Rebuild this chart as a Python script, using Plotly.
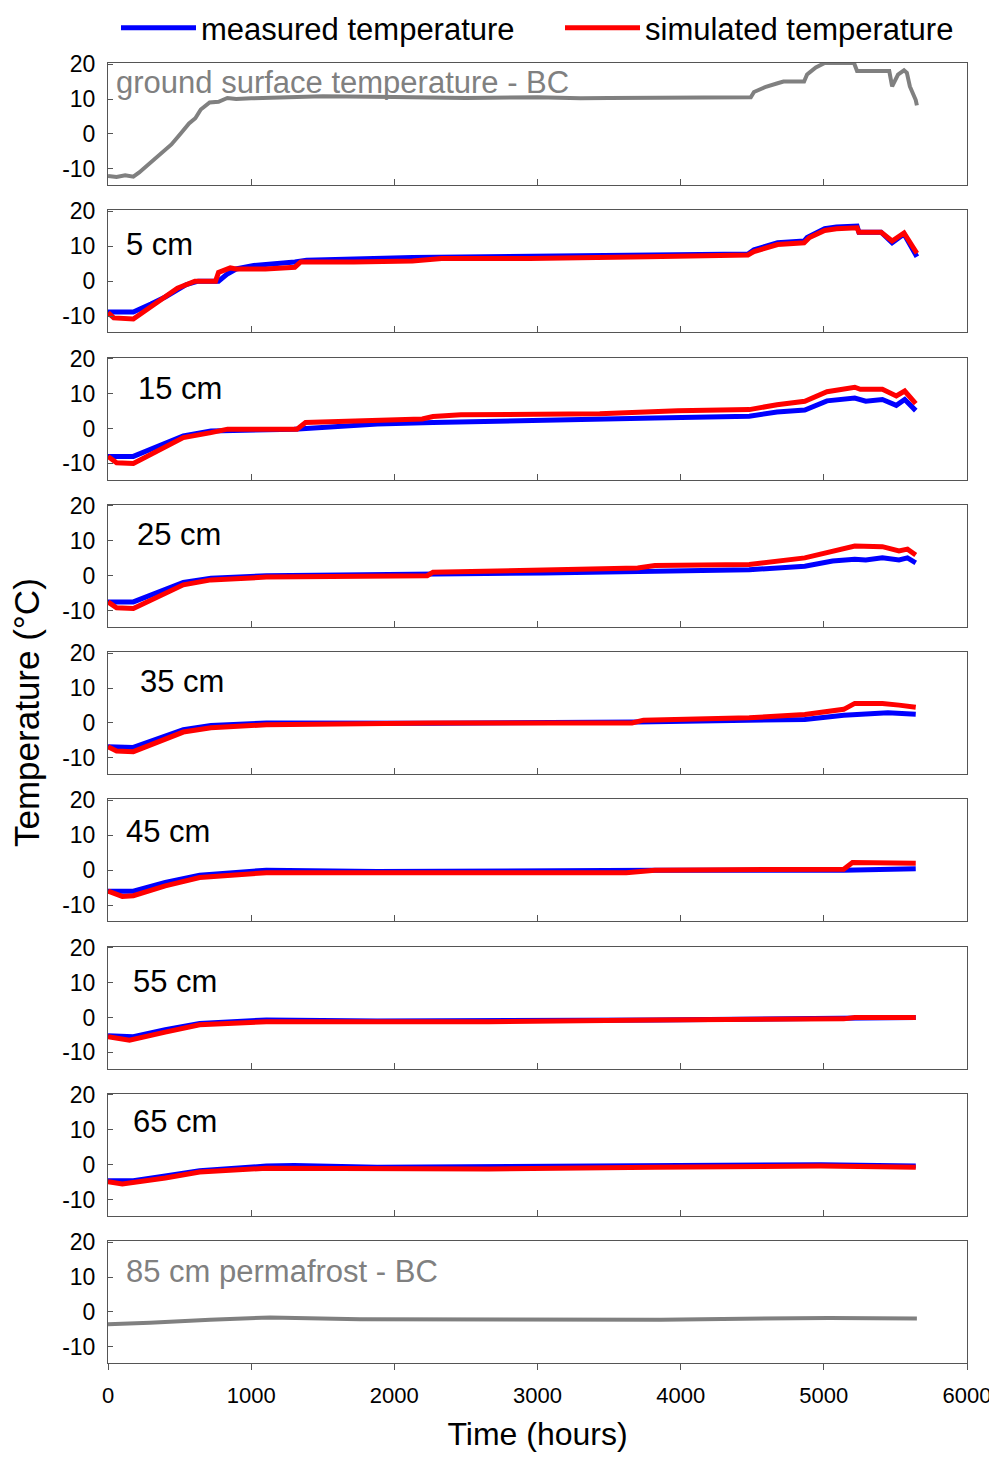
import plotly.graph_objects as go

# ---------------- data ----------------
gs_t = [0, 60, 120, 177, 218, 260, 320, 380, 443, 505, 566, 610, 648, 710, 772, 834, 895, 1000, 1200, 1500,
        2000, 2500, 3000, 3300, 3500, 4000, 4300, 4490, 4512, 4595, 4677, 4718, 4862, 4883, 4944, 5006, 5211,
        5232, 5457, 5477, 5518, 5560, 5580, 5601, 5642, 5650]
gs_v = [-12, -12.3, -11.8, -12.2, -11, -9.5, -7.5, -5.2, -3, 0, 3, 4.5, 7, 9, 9.2, 10.3, 10, 10.2, 10.5, 10.8,
        10.6, 10.3, 10.5, 10.2, 10.3, 10.5, 10.4, 10.5, 12, 13.5, 14.5, 15, 15, 17, 19, 20.3, 20.3,
        18, 18, 13.6, 17, 18.2, 17.5, 13.6, 9.7, 8.2]

m5_t = [0, 177, 300, 400, 546, 630, 772, 830, 895, 1018, 1305, 1387, 2125, 2947, 3769, 4180, 4470, 4512, 4677,
        4862, 4883, 5006, 5088, 5232, 5245, 5400, 5477, 5560, 5650]
m5_v = [-8.8, -8.8, -6.5, -4.5, -1, 0, 0, 2, 3.5, 4.5, 5.5, 6, 6.8, 7.2, 7.5, 7.8, 7.8, 9, 11,
        11.5, 12.5, 15, 15.5, 15.8, 14, 14, 11, 13.5, 7]
s5_t = [0, 40, 177, 238, 485, 607, 751, 772, 834, 854, 895, 1100, 1305, 1346, 1716, 2126, 2331, 2947, 3769,
        4470, 4512, 4677, 4862, 4900, 5006, 5088, 5232, 5245, 5400, 5477, 5560, 5650]
s5_v = [-9, -10.5, -10.8, -9, -2, 0, 0, 2.5, 3.5, 3.8, 3.5, 3.5, 4, 5.5, 5.5, 5.8, 6.5, 6.5, 7,
        7.5, 8.5, 10.5, 11, 12.5, 14.5, 15, 15.3, 14, 14, 11.5, 13.8, 8]

m15_t = [0, 177, 526, 719, 1301, 1882, 2270, 3045, 3820, 4479, 4673, 4867, 5022, 5216, 5293, 5409, 5506, 5565, 5642]
m15_v = [-8, -8, -2.1, -0.7, -0.2, 1.3, 1.7, 2.5, 3, 3.5, 4.7, 5.3, 7.9, 8.7, 7.8, 8.3, 6.6, 8.3, 5.1]
s15_t = [0, 60, 177, 526, 719, 835, 1320, 1380, 2195, 2270, 2465, 3435, 3980, 4479, 4673, 4867, 5022, 5216,
         5255, 5409, 5506, 5565, 5642]
s15_v = [-8, -9.8, -10, -2.6, -1.2, -0.2, -0.2, 1.7, 2.7, 3.4, 3.9, 4.2, 5.1, 5.4, 6.8, 7.8, 10.5, 11.8,
         11.2, 11.2, 9.3, 10.7, 7.1]

m25_t = [0, 177, 526, 719, 1106, 2230, 3045, 3820, 4479, 4867, 5061, 5216, 5293, 5409, 5525, 5584, 5642]
m25_v = [-7.5, -7.5, -1.9, -0.7, 0, 0.3, 0.8, 1.3, 1.7, 2.7, 4.2, 4.7, 4.5, 5.1, 4.5, 5.1, 3.7]
s25_t = [0, 60, 177, 526, 719, 1106, 2230, 2270, 3045, 3700, 3820, 4479, 4867, 5061, 5216, 5409, 5525, 5584, 5642]
s25_v = [-7.5, -9.2, -9.4, -2.6, -1.2, -0.4, 0, 1, 1.6, 2.2, 2.9, 3.2, 5.1, 7.1, 8.5, 8.3, 7.1, 7.6, 5.9]

m35_t = [0, 177, 526, 719, 1106, 2270, 3700, 4479, 4867, 5139, 5448, 5642]
m35_v = [-6.8, -7, -1.9, -0.7, 0, -0.1, 0.3, 0.6, 1, 2.2, 2.9, 2.5]
s35_t = [0, 60, 177, 526, 719, 1106, 2270, 3660, 3740, 4479, 4867, 5139, 5216, 5409, 5525, 5642]
s35_v = [-6.8, -8, -8.2, -2.6, -1.4, -0.5, 0, 0, 0.8, 1.5, 2.4, 3.9, 5.6, 5.6, 5.1, 4.5]

m45_t = [0, 177, 400, 640, 1106, 1880, 3820, 5139, 5642]
m45_v = [-6, -6, -3.5, -1.4, 0, -0.4, 0, 0, 0.4]
s45_t = [0, 100, 177, 400, 640, 1106, 1880, 3620, 3820, 5139, 5200, 5642]
s45_v = [-6, -7.5, -7.3, -4.5, -2.1, -0.7, -0.7, -0.7, 0, 0.3, 2.2, 2.0]

m55_t = [0, 177, 400, 640, 1106, 1880, 3820, 5139, 5642]
m55_v = [-5.2, -5.5, -3.5, -1.7, -0.7, -1, -0.7, -0.2, 0]
s55_t = [0, 150, 400, 640, 1106, 2660, 3820, 5139, 5216, 5642]
s55_v = [-5.5, -6.5, -4.2, -2.1, -1.2, -1.2, -0.7, -0.4, 0, 0]

m65_t = [0, 177, 400, 640, 1106, 1300, 1880, 3820, 4980, 5642]
m65_v = [-4.6, -4.6, -3.2, -1.7, -0.4, -0.2, -0.7, -0.4, 0, -0.4]
s65_t = [0, 100, 400, 640, 1106, 2660, 3820, 4980, 5642]
s65_v = [-4.9, -5.5, -3.8, -2.1, -1, -1.2, -0.7, -0.4, -0.7]

pf_t = [0, 293, 713, 1131, 1760, 2600, 3860, 5037, 5650]
pf_v = [-3.5, -3.1, -2.2, -1.6, -2.1, -2.2, -2.2, -1.7, -1.9]

panel_labels = ["ground surface temperature - BC", "5 cm", "15 cm", "25 cm", "35 cm",
                "45 cm", "55 cm", "65 cm", "85 cm permafrost - BC"]
x_ticks = [0, 1000, 2000, 3000, 4000, 5000, 6000]
y_ticks = [-10, 0, 10, 20]
y_ticktext = ["-10", "0", "10", "20"]

# ---------------- figure ----------------
# the page body adds an 8 px offset, so the figure is smaller than the window
W, H = 989, 1444
ML, MR, MT, MB = 100, 30, 55, 89
PH = H - MT - MB
PW = W - ML - MR
panel_h, panel_step = 122, 147.25
FONT = "Liberation Sans, Arial, sans-serif"
BLUE, RED, GRAY = "#0000FF", "#FF0000", "#808080"

fig = go.Figure()
pairs = [(m5_t, m5_v, s5_t, s5_v), (m15_t, m15_v, s15_t, s15_v), (m25_t, m25_v, s25_t, s25_v),
         (m35_t, m35_v, s35_t, s35_v), (m45_t, m45_v, s45_t, s45_v), (m55_t, m55_v, s55_t, s55_v),
         (m65_t, m65_v, s65_t, s65_v)]

def ax(i):
    return "" if i == 1 else str(i)

fig.add_trace(go.Scatter(x=gs_t, y=gs_v, mode="lines", line=dict(color=GRAY, width=4),
                         showlegend=False, xaxis="x", yaxis="y"))
for k, (mt, mv, st, sv) in enumerate(pairs):
    i = k + 2
    fig.add_trace(go.Scatter(x=mt, y=mv, mode="lines", line=dict(color=BLUE, width=5),
                             name="measured temperature", legendgroup="m", showlegend=(k == 0),
                             legend="legend", xaxis="x" + ax(i), yaxis="y" + ax(i)))
    fig.add_trace(go.Scatter(x=st, y=sv, mode="lines", line=dict(color=RED, width=5),
                             name="simulated temperature", legendgroup="s", showlegend=(k == 0),
                             legend="legend2", xaxis="x" + ax(i), yaxis="y" + ax(i)))
fig.add_trace(go.Scatter(x=pf_t, y=pf_v, mode="lines", line=dict(color=GRAY, width=4),
                         showlegend=False, xaxis="x9", yaxis="y9"))

layout = {}
# (left x on page, offset of label centre below panel top)
label_pos = [(114, 20), (124, 34), (136, 31), (135, 30), (138, 29), (124, 32), (131, 35), (131, 28), (124, 30)]
annotations = []
for i in range(1, 10):
    top = MT + (i - 1) * panel_step
    bot = top + panel_h
    d0 = 1 - (bot - MT) / PH
    d1 = 1 - (top - MT) / PH
    last = (i == 9)
    layout["xaxis" + ax(i)] = dict(
        domain=[0, 1], anchor="y" + ax(i), range=[0, 6000], tickvals=x_ticks,
        showticklabels=last, ticks="outside" if last else "inside", ticklen=6,
        tickcolor="#555555", showline=True, linecolor="#555555", linewidth=1, mirror=True,
        showgrid=False, zeroline=False, tickfont=dict(size=22, color="black", family=FONT),
        ticklabelstandoff=7 if last else 0,
        matches=None if i == 1 else "x",
        title=dict(text="Time (hours)", font=dict(size=32, color="black", family=FONT), standoff=19) if last else None)
    layout["yaxis" + ax(i)] = dict(
        domain=[d0, d1], anchor="x" + ax(i), range=[-14.6, 20.3], tickvals=y_ticks, ticktext=y_ticktext,
        ticks="inside", ticklen=5, tickcolor="#555555", showline=True, linecolor="#555555",
        linewidth=1, mirror=True, showgrid=False, zeroline=False, ticklabelstandoff=7,
        tickfont=dict(size=23, color="black", family=FONT))
    lx, dy = label_pos[i - 1]
    gray = i in (1, 9)
    annotations.append(dict(
        text=panel_labels[i - 1], xref="x" + ax(i) + " domain", yref="y" + ax(i) + " domain",
        x=(lx - 108) / PW, y=1 - dy / panel_h, xanchor="left", yanchor="middle",
        showarrow=False, font=dict(size=31, color=GRAY if gray else "black", family=FONT)))

annotations.append(dict(text="Temperature (°C)", xref="paper", yref="paper", x=-82 / PW,
                        y=1 - (713 - 63) / PH, xanchor="center", yanchor="middle", textangle=-90,
                        showarrow=False, font=dict(size=35, color="black", family=FONT)))

leg_common = dict(orientation="h", y=1 + (MT - 20) / PH, xanchor="left", yanchor="middle",
                  font=dict(size=31, color="black", family=FONT), bgcolor="rgba(0,0,0,0)", itemwidth=75)

fig.update_layout(
    width=W, height=H, margin=dict(l=ML, r=MR, t=MT, b=MB, autoexpand=False),
    plot_bgcolor="white", paper_bgcolor="white",
    font=dict(family=FONT, color="black"),
    annotations=annotations,
    legend=dict(x=8 / PW, **leg_common),
    legend2=dict(x=452 / PW, **leg_common),
    **layout,
)

fig.write_html("out.html")
